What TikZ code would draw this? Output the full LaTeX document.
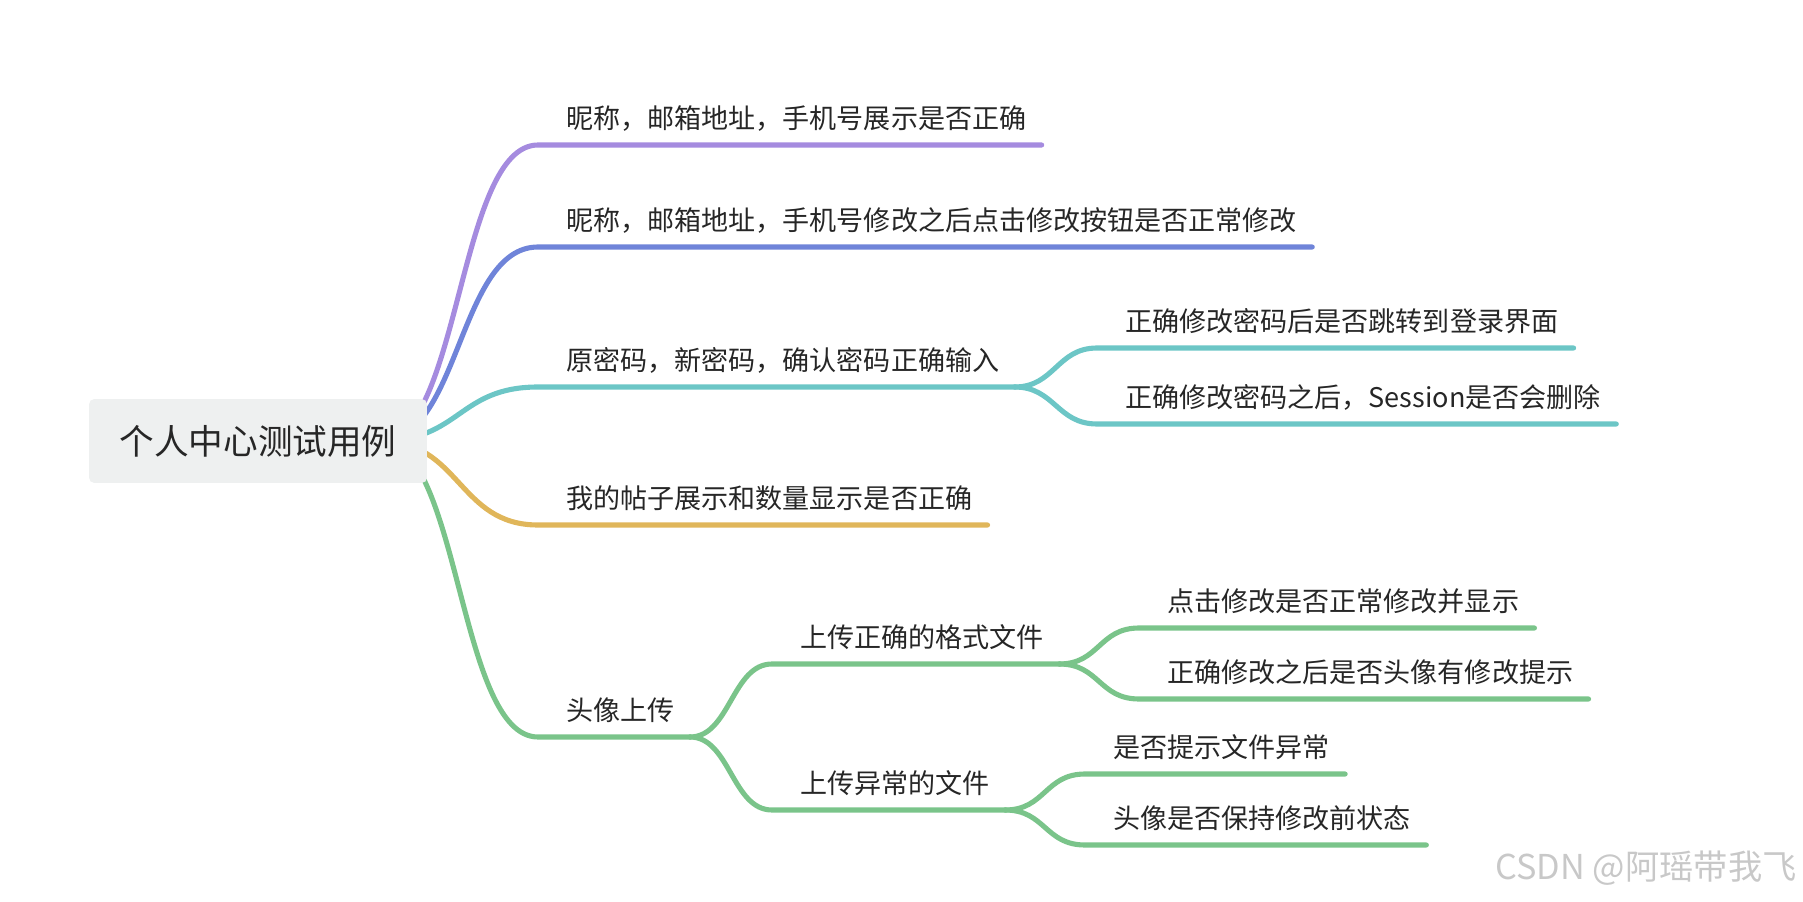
\documentclass[tikz,border=0pt]{standalone}
\usepackage{fontspec}
\setmainfont{Noto Sans CJK SC}
\usepackage{tikz}
\usetikzlibrary{positioning,calc,backgrounds}
\usepackage{xcolor}
\definecolor{cPurple}{RGB}{165,139,223}
\definecolor{cBlue}{RGB}{111,132,217}
\definecolor{cTeal}{RGB}{108,198,198}
\definecolor{cYellow}{RGB}{224,182,90}
\definecolor{cGreen}{RGB}{122,196,138}
\definecolor{cRoot}{RGB}{238,240,240}
\definecolor{cText}{RGB}{38,38,38}
\definecolor{cMark}{RGB}{200,200,200}
\tikzset{
  rootbox/.style={rectangle,rounded corners=3pt,fill=cRoot,text=cText,
                  minimum width=6.76cm,minimum height=1.68cm,
                  font=\fontsize{19.7pt}{23pt}\selectfont},
  topic/.style={anchor=south west,inner xsep=0pt,inner ysep=0.2cm,
                text height=0.44cm,text depth=0.12cm,text=cText,
                font=\fontsize{15.4pt}{18pt}\selectfont},
  wmark/.style={anchor=east,inner sep=0pt,text=cMark,
                font=\fontsize{19.5pt}{23pt}\selectfont},
  branch/.style={line width=2.9pt,line cap=round,line join=round},
  curvea/.style={to path={.. controls +(80,0) and +(-80,0) .. (\tikztotarget)}},
  curveb/.style={to path={.. controls +(40,0) and +(-40,0) .. (\tikztotarget)}}
}

\begin{document}
\begin{tikzpicture}[x=0.02cm,y=-0.02cm]
  \useasboundingbox (0,0) rectangle (1803,902);

  \node[rootbox] (root) at (258,441) {个人中心测试用例};
  \coordinate (o) at ([shift={(-47,0)}]root.east);

  % first level
  \node[topic] (show) at (566,145) {昵称，邮箱地址，手机号展示是否正确};
  \node[topic] (edit) at (566,247) {昵称，邮箱地址，手机号修改之后点击修改按钮是否正常修改};
  \node[topic] (pwd) at (566,387) {原密码，新密码，确认密码正确输入};
  \node[topic] (post) at (566,525) {我的帖子展示和数量显示是否正确};
  \node[topic] (avatar) at (566,737) {头像上传};

  % password
  \node[topic] (pwdjump) at (1125,348) {正确修改密码后是否跳转到登录界面};
  \node[topic] (pwdsess) at (1125,424) {正确修改密码之后，Session是否会删除};

  % avatar upload
  \node[topic] (upok) at (800,664) {上传正确的格式文件};
  \node[topic] (upbad) at (800,810) {上传异常的文件};
  \node[topic] (okshow) at (1167,628) {点击修改是否正常修改并显示};
  \node[topic] (oktip) at (1167,699) {正确修改之后是否头像有修改提示};
  \node[topic] (badtip) at (1113,774) {是否提示文件异常};
  \node[topic] (badkeep) at (1113,845) {头像是否保持修改前状态};

  \node[wmark] (csdn) at (1797,868) {CSDN @阿瑶带我飞};

  \begin{pgfonlayer}{background}
    \draw[branch,cPurple] (o) to[curvea] ([shift={(-28,0)}]show.south west)
      -- ([shift={(15,0)}]show.south east);
    \draw[branch,cBlue] (o) to[curvea] ([shift={(-28,0)}]edit.south west)
      -- ([shift={(15,0)}]edit.south east);
    \draw[branch,cTeal] (o) to[curvea] ([shift={(-28,0)}]pwd.south west)
      -- ([shift={(15,0)}]pwd.south east);
    \draw[branch,cYellow] (o) to[curvea] ([shift={(-28,0)}]post.south west)
      -- ([shift={(15,0)}]post.south east);
    \draw[branch,cGreen] (o) to[curvea] ([shift={(-28,0)}]avatar.south west)
      -- ([shift={(15,0)}]avatar.south east);

    \draw[branch,cTeal] ([shift={(15,0)}]pwd.south east) to[curveb]
      ([shift={(-28,0)}]pwdjump.south west) -- ([shift={(15,0)}]pwdjump.south east);
    \draw[branch,cTeal] ([shift={(15,0)}]pwd.south east) to[curveb]
      ([shift={(-28,0)}]pwdsess.south west) -- ([shift={(15,0)}]pwdsess.south east);

    \draw[branch,cGreen] ([shift={(15,0)}]avatar.south east) to[curveb]
      ([shift={(-28,0)}]upok.south west) -- ([shift={(15,0)}]upok.south east);
    \draw[branch,cGreen] ([shift={(15,0)}]avatar.south east) to[curveb]
      ([shift={(-28,0)}]upbad.south west) -- ([shift={(15,0)}]upbad.south east);
    \draw[branch,cGreen] ([shift={(15,0)}]upok.south east) to[curveb]
      ([shift={(-28,0)}]okshow.south west) -- ([shift={(15,0)}]okshow.south east);
    \draw[branch,cGreen] ([shift={(15,0)}]upok.south east) to[curveb]
      ([shift={(-28,0)}]oktip.south west) -- ([shift={(15,0)}]oktip.south east);
    \draw[branch,cGreen] ([shift={(15,0)}]upbad.south east) to[curveb]
      ([shift={(-28,0)}]badtip.south west) -- ([shift={(15,0)}]badtip.south east);
    \draw[branch,cGreen] ([shift={(15,0)}]upbad.south east) to[curveb]
      ([shift={(-28,0)}]badkeep.south west) -- ([shift={(15,0)}]badkeep.south east);
  \end{pgfonlayer}
\end{tikzpicture}
\end{document}
